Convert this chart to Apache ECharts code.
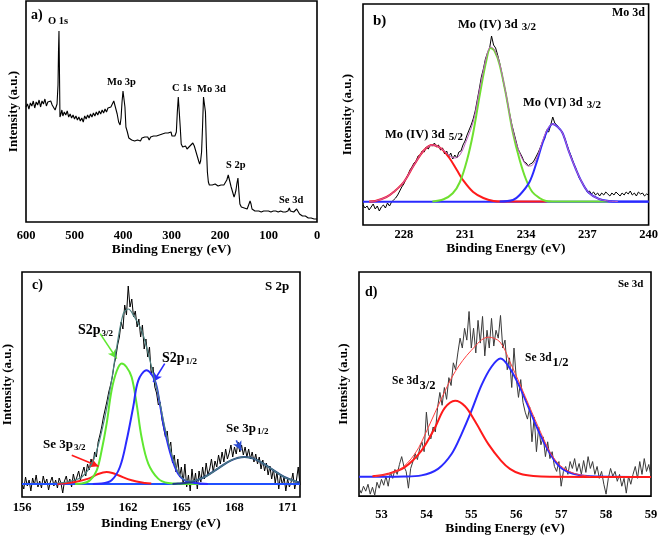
<!DOCTYPE html>
<html><head><meta charset="utf-8">
<script src="https://cdn.jsdelivr.net/npm/echarts@6/dist/echarts.min.js"></script>
<style>html,body{margin:0;padding:0;background:#fff}#c{width:661px;height:537px}</style>
</head><body><div id="c"></div><script>
// ---------- Panel a: survey spectrum [binding energy, intensity] ----------
const surveyPoints = [[600,115],[597,118],[594,113],[591,119],[588,116],[585,121],[582,114],[579,120],[576,117],[573,122],[570,115],[567,121],[564,118],[561,123],[558,116],[555,120],[552,118],[549,121],[546,117],[543,119],[540,112],[538,110],[536,118],[534,137],[533,170],[532,191],[531,150],[530,105],[528,108],[526,112],[524,106],[521,110],[518,107],[515,111],[512,105],[509,108],[506,104],[503,107],[500,103],[497,106],[494,102],[491,105],[488,101],[485,104],[482,100],[479,106],[476,103],[473,107],[470,104],[467,108],[464,105],[461,109],[458,106],[455,110],[452,107],[449,111],[446,108],[443,112],[440,109],[437,113],[434,110],[431,114],[428,116],[425,115],[422,118],[419,121],[417,122],[415,119],[412,108],[409,100],[406,97],[404,104],[402,120],[400,131],[398,131],[396,115],[394,95],[391,90],[388,84],[385,83],[382,82],[379,84],[376,81],[373,83],[370,82],[367,84],[364,81],[361,84],[358,82],[355,85],[352,83],[349,85],[346,82],[343,85],[340,83],[337,86],[334,84],[331,86],[328,85],[325,87],[322,85],[319,88],[316,86],[313,89],[310,87],[307,89],[304,88],[301,90],[299,86],[296,87],[293,86],[290,90],[288,110],[286,125],[284,125],[282,95],[280,78],[277,75],[274,74],[271,76],[268,73],[265,75],[262,76],[259,77],[256,79],[253,76],[250,71],[247,66],[244,61],[242,58],[240,61],[238,70],[236,95],[234,125],[232,125],[230,110],[228,75],[226,50],[224,40],[222,37],[219,36],[216,37],[213,36],[210,38],[207,37],[204,36],[201,38],[198,37],[195,35],[192,37],[189,38],[186,42],[183,47],[181,49],[179,45],[177,35],[174,30],[171,25],[169,28],[167,32],[165,39],[163,44],[161,30],[159,18],[156,15],[153,13],[150,14],[147,14],[144,13],[141,17],[138,21],[136,18],[134,13],[131,12],[128,11],[125,11],[120,11],[115,10],[110,11],[105,11],[100,11],[95,10],[90,11],[85,11],[80,10],[75,11],[70,10],[65,10],[60,11],[57,14],[55,11],[52,10],[48,10],[45,12],[42,13],[39,11],[36,8],[33,8],[30,6],[27,5],[24,6],[21,4],[18,4],[15,5],[12,4],[9,5],[6,3],[3,4],[0,3]];

// ---------- Panel b: Mo 3d ----------
const moStart = 226.0, moStep = 0.1;
const moRaw = [20,17,19,15,18,21,16,19,14,18,
 20,17,22,19,23,25,27,30,34,38,
 41,46,50,55,58,62,64,69,70,74,
 73,78,76,80,79,82,78,80,75,77,
 71,74,68,72,66,70,67,73,74,80,
 84,90,95,100,106,114,125,136,148,156,
 166,172,176,189,180,177,170,162,152,141,
 132,120,110,100,92,84,76,72,68,63,
 62,59,61,62,65,69,73,78,83,86,
 95,93,100,108,102,100,97,95,91,86,
 80,74,69,63,58,53,47,44,40,37,
 33,34,31,33,30,32,29,32,30,33,
 31,29,32,30,33,31,29,32,30,33,
 31,34,30,32,29,33,31,32,29,31,
 30];
const moIV52 = [[226.3,23.5],[226.6,24],[227.15,28],[227.5,33],[228.0,43],[228.5,60],[229.0,75],[229.4,80],[229.8,77],[230.2,68],[230.6,55],[230.9,45],[231.4,33],[231.9,27],[232.4,24],[232.8,23.5],[235.0,23.5]];
const moIV32 = [[229.4,23.5],[229.95,25.7],[230.4,31.7],[230.75,43],[231.1,65],[231.4,92],[231.73,131],[232.05,165],[232.25,177],[232.45,174],[232.7,160],[233.03,128],[233.35,92],[233.68,65],[234.0,45],[234.3,33],[234.65,27],[234.97,24],[235.3,23.5],[238.0,23.5]];
const moVI32 = [[232.7,23.5],[233.35,25],[233.68,30],[234.16,43],[234.5,62],[234.8,82],[235.05,95],[235.3,101],[235.55,98],[235.78,92],[236.1,73],[236.45,55],[236.75,42],[237.08,32],[237.57,26],[238.05,24],[238.5,23.5],[240,23.5]];
const moEnv = [[226.3,23.5],[226.6,24],[227.15,28],[227.5,33],[228.0,43],[228.5,60],[229.0,75],[229.4,80],[229.8,77],[230.2,70],[230.5,67],[230.75,70],[231.1,86],[231.4,103],[231.73,137],[232.05,168],[232.25,178],[232.45,175],[232.7,161],[233.03,129],[233.35,94],[233.68,72],[234.0,60],[234.2,59],[234.5,66],[234.8,84],[235.05,96],[235.3,101],[235.55,98],[235.78,92],[236.1,73],[236.45,55],[236.75,42],[237.08,32],[237.57,26],[238.05,24],[238.5,23.5]];
const moBase = [[226,23.3],[240,23.3]];

// ---------- Panel c: S 2p ----------
const sStart = 156.0, sStep = 0.1;
const sRaw = [14,8,20,11,17,6,19,12,22,10,
 16,9,21,13,18,7,15,20,11,17,
 9,19,14,4,16,21,12,18,10,23,
 15,20,26,17,24,30,21,33,27,38,
 31,45,40,55,62,70,80,88,96,105,
 112,120,132,140,152,160,175,168,192,182,
 211,190,198,180,186,170,178,160,172,148,
 158,140,150,122,130,110,104,92,95,78,
 80,60,66,48,55,34,42,25,38,20,
 30,14,33,10,22,6,28,12,24,8,
 26,15,30,18,34,22,28,38,25,36,
 30,42,33,45,35,48,38,44,52,40,
 50,43,55,45,52,42,50,40,48,38,
 45,35,43,33,40,28,37,26,34,22,
 31,18,28,14,25,8,22,12,20,6,
 18,10,15,24,8,17,30,12];
const se3p32 = [[158.0,13],[158.25,13.4],[159,15],[159.75,18.4],[160.3,23],[160.78,25],[161.1,24],[161.44,21.7],[162.19,16.7],[162.94,14],[163.3,13.4]];
const s2p32 = [[159.0,13],[159.38,13.4],[159.84,16.7],[160.22,26.7],[160.5,46.7],[160.78,73.4],[161.06,106.7],[161.35,126],[161.63,133.4],[161.9,130],[162.19,120],[162.47,93.4],[162.75,60],[163.13,33.4],[163.69,18.4],[164.25,14],[165,13.2],[166,13]];
const s2p12 = [[160.0,13],[160.5,13.4],[161.06,16.7],[161.53,30],[161.91,56.7],[162.28,90],[162.57,116.7],[163.03,126.7],[163.5,116.7],[163.78,93.4],[164.06,66.7],[164.44,40],[164.81,23.4],[165.19,16.7],[165.75,14],[166.5,13]];
const se3p12 = [[164.5,13],[164.81,13.4],[165.56,15],[166.31,20],[167.06,28.4],[167.81,36.7],[168.56,40],[169.31,36.7],[170.06,28.4],[170.81,20],[171.56,15],[171.7,14.5]];
const sEnv = [[158.0,14],[158.5,15],[159.38,20],[160.03,36.7],[160.6,73.4],[161.06,116.7],[161.35,150],[161.72,183.4],[162.0,188],[162.35,180],[162.75,166.7],[163.13,143.4],[163.5,116.7],[163.69,103],[164.06,70],[164.44,43],[164.81,25],[165.19,17],[165.56,16],[166.31,20],[167.06,28.4],[167.81,36.7],[168.56,40],[169.31,36.7],[170.06,28.4],[170.81,20],[171.56,15]];
const sBase = [[156,13],[171.7,13]];
// annotation arrows (data coordinates: from, to)
const arrowsC = [
  {from:[160.41,163.4], to:[161.35,138.4], color:'#5fe830'},
  {from:[164.06,133.4], to:[163.41,115], color:'#2a2aff'},
  {from:[158.81,41.7], to:[160.32,30.7], color:'#ff1a1a'},
  {from:[168.1,56.7], to:[168.38,46.7], color:'#2a4bd0'}
];

// ---------- Panel d: Se 3d ----------
const seStart = 52.5, seStep = 0.05;
const seRaw = [8,3,10,5,12,2,9,1,14,8,
 17,11,20,10,24,18,27,22,32,40,
 30,25,8,28,35,43,37,48,55,45,
 85,62,58,70,65,90,105,92,110,98,
 120,112,135,128,145,160,150,170,158,187,
 150,170,145,178,155,182,142,168,150,180,
 152,168,160,183,150,158,128,140,110,150,
 120,100,118,95,85,78,90,55,80,45,
 70,52,60,40,55,38,45,30,25,35,
 10,25,30,22,35,28,38,25,33,22,
 36,24,40,28,35,22,30,18,25,12,
 2,18,28,20,25,15,22,10,18,3,
 20,12,22,30,18,35,22,38,25,32,
 20];
const se3d32 = [[52.8,20],[53.15,22.6],[53.52,29.3],[53.89,46],[54.19,69.3],[54.41,89.3],[54.64,96.6],[54.86,91],[55.08,76],[55.38,52.6],[55.66,36],[55.86,27.6],[56.09,22.6],[56.38,20.3],[56.75,19.5],[59,19.3]];
const se3d12 = [[52.5,19.5],[53.5,19.8],[53.89,21],[54.26,27.6],[54.56,42.6],[54.78,62.6],[55.0,86],[55.23,112.6],[55.45,131],[55.65,139.3],[55.86,129.3],[56.09,109.3],[56.31,86],[56.53,62.6],[56.76,42.6],[56.98,29.3],[57.27,22.6],[57.65,20],[59,19.3]];
const seEnv = [[52.85,20],[53.37,26],[53.74,42.6],[54.04,69.3],[54.34,99.3],[54.64,126],[55.0,147.6],[55.38,161],[55.64,156],[55.86,136],[56.09,112.6],[56.31,89],[56.53,66],[56.76,44],[56.98,31],[57.27,23.3],[57.65,20]];

// ---------- build ----------
const FONT = '"Liberation Serif","Times New Roman",serif';
const toPairs = (s, st, vals) => vals.map((v,i)=>[+(s+i*st).toFixed(3), v]);
const isInt = v => Math.abs(v-Math.round(v))<1e-6;

function grid(l,t,w,h){return {left:l,top:t,width:w,height:h,show:true,borderColor:'#000',borderWidth:1.6};}
function xAx(gi, o){
  return Object.assign({gridIndex:gi,type:'value',axisLine:{show:false},axisTick:{show:false},splitLine:{show:false},
    name:'Binding Energy (eV)',nameLocation:'middle',
    nameTextStyle:{fontFamily:FONT,fontWeight:'bold',fontSize:13.5,color:'#000'}},o,
    {axisLabel:Object.assign({fontFamily:FONT,fontWeight:'bold',fontSize:12.5,color:'#000'},o.axisLabel||{})});
}
function yAx(gi, max, gap){
  return {gridIndex:gi,type:'value',min:0,max:max,axisLine:{show:false},axisTick:{show:false},splitLine:{show:false},
    axisLabel:{show:false},name:'Intensity (a.u.)',nameLocation:'middle',nameGap:gap,
    nameTextStyle:{fontFamily:FONT,fontWeight:'bold',fontSize:13,color:'#000'}};
}
function line(gi, data, color, width, smooth, z){
  return {type:'line',xAxisIndex:gi,yAxisIndex:gi,data:data,showSymbol:false,symbol:'none',smooth:smooth||false,
    lineStyle:{color:color,width:width},itemStyle:{color:color},z:z||2,silent:true,animation:false};
}

const arrowSeries = {type:'line',xAxisIndex:2,yAxisIndex:2,data:[],silent:true,z:6,
  markLine:{silent:true,symbol:['none','arrow'],symbolSize:[7,9],label:{show:false},animation:false,
    data: arrowsC.map(a=>[{coord:a.from,lineStyle:{color:a.color,width:1.6,type:'solid'}},{coord:a.to}])}};

// text with optional lowered subscript: main part + sub part
function txt(left, top, main, size, subText, subSize, drop){
  const m = {fontSize:size, fontWeight:'bold', fontFamily:FONT, fill:'#000', verticalAlign:'top', lineHeight:size+2};
  const s = {fontSize:subSize||size, fontWeight:'bold', fontFamily:FONT, fill:'#000', verticalAlign:'top',
             lineHeight:(subSize||size)+2, padding:[drop||0,0,0,1]};
  const text = subText ? '{m|'+main+'}{s|'+subText+'}' : '{m|'+main+'}';
  return {type:'text',left:left,top:top,z:100,style:{text:text,rich:{m:m,s:s}}};
}

const option = {
  animation:false,
  backgroundColor:'#fff',
  grid:[grid(26,1,291,221), grid(363,4,287,221), grid(22,272,278,225), grid(359,272,292,227)],
  xAxis:[
    xAx(0,{min:0,max:600,interval:100,inverse:true,nameGap:19,axisLabel:{margin:7}}),
    xAx(1,{min:226,max:240,interval:1,nameGap:16,axisLabel:{margin:3,formatter:v=>(isInt(v)&&v>=228&&(Math.round(v)-228)%3===0)?String(Math.round(v)):''}}),
    xAx(2,{min:156,max:171.7,interval:3,nameGap:20,axisLabel:{margin:4,formatter:v=>(isInt(v)&&(Math.round(v)-156)%3===0)?String(Math.round(v)):''}}),
    xAx(3,{min:52.5,max:59,interval:0.5,nameGap:21,axisLabel:{margin:12,formatter:v=>isInt(v)?String(Math.round(v)):''}})
  ],
  yAxis:[yAx(0,221,6), yAx(1,221,9), yAx(2,225,8), yAx(3,227,9)],
  series:[
    line(0, surveyPoints, '#000', 1.1, false, 2),
    // b
    line(1, toPairs(moStart,moStep,moRaw), '#000', 1, false, 2),
    line(1, moBase, '#2a2aff', 2, false, 3),
    line(1, moIV52, '#ff1a1a', 2, 0.35, 4),
    line(1, moIV32, '#6fe030', 2, 0.35, 4),
    line(1, moVI32, '#2a2aff', 2, 0.35, 4),
    line(1, moEnv, '#c060c0', 1, 0.35, 5),
    // c
    line(2, toPairs(sStart,sStep,sRaw), '#000', 1, false, 2),
    line(2, sBase, '#2050ff', 2, false, 3),
    line(2, se3p32, '#ff1a1a', 2, 0.35, 4),
    line(2, s2p32, '#5fe830', 2, 0.35, 4),
    line(2, s2p12, '#2a2aff', 2, 0.35, 4),
    line(2, se3p12, '#203a8a', 2, 0.35, 4),
    line(2, sEnv, '#4d8080', 1.2, 0.35, 5),
    arrowSeries,
    // d
    line(3, toPairs(seStart,seStep,seRaw), '#3a3a3a', 1, false, 2),
    line(3, se3d12, '#2a2aff', 2, 0.35, 4),
    line(3, se3d32, '#ff1a1a', 2, 0.35, 4),
    line(3, seEnv, '#ff4040', 1, 0.35, 5)
  ],
  graphic:[
    txt(31,8,'a)',14),
    txt(48,16,'O 1s',10.5),
    txt(107,77,'Mo 3p',10.5),
    txt(172,83,'C 1s',10.5),
    txt(197,84,'Mo 3d',10.5),
    txt(226,160,'S 2p',10.5),
    txt(279,195,'Se 3d',10.5),
    txt(373,14,'b)',15),
    txt(612,7,'Mo 3d',12),
    txt(458,18,'Mo (IV) 3d ',12.5,'3/2',11,4),
    txt(385,128,'Mo (IV) 3d ',12.5,'5/2',11,4),
    txt(523,96,'Mo (VI) 3d ',12.5,'3/2',11,4),
    txt(32,278,'c)',14),
    txt(265,280,'S 2p',13),
    txt(78,323,'S2p',14,'3/2',9,6),
    txt(162,351,'S2p',14,'1/2',9,6),
    txt(43,438,'Se 3p',13,'3/2',9,5),
    txt(226,422,'Se 3p',13,'1/2',9,5),
    txt(365,285,'d)',14),
    txt(618,279,'Se 3d',11),
    txt(392,375,'Se 3d',11.5,'3/2',12.5,4),
    txt(525,352,'Se 3d',11.5,'1/2',12.5,4)
  ]
};
const chart = echarts.init(document.getElementById('c'), null, {renderer:'canvas'});
chart.setOption(option);
</script></body></html>
